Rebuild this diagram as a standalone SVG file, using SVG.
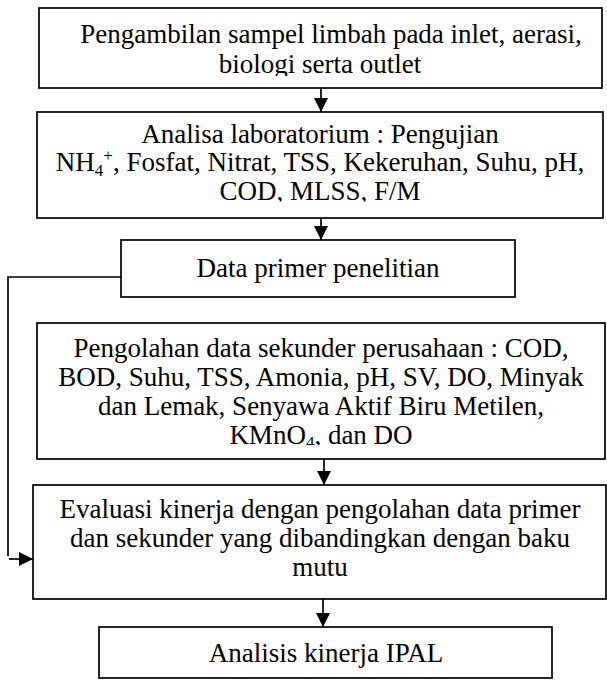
<svg xmlns="http://www.w3.org/2000/svg" width="607" height="680" viewBox="0 0 607 680">
<style>
.box{fill:#fff;stroke:#000;stroke-width:1.7}
.t{font-family:"Liberation Serif","Times New Roman",serif;font-size:27px;fill:#000;text-anchor:middle}
.c{fill:none;stroke:#000;stroke-width:1.7}
</style>
<defs>
<marker id="ah" markerUnits="userSpaceOnUse" markerWidth="16" markerHeight="16" viewBox="0 0 15 16" refX="14" refY="8" orient="auto">
<path d="M0,1 L14,8 L0,15 Z" fill="#000"/>
</marker>
<clipPath id="c1"><rect x="39" y="8" width="563" height="68"/></clipPath>
<clipPath id="c2"><rect x="37" y="112" width="566" height="89.5"/></clipPath>
<clipPath id="c4"><rect x="37" y="323" width="568" height="122"/></clipPath>
</defs>
<rect width="607" height="680" fill="#fff"/>
<g id="connectors">
<path class="c" d="M321,88 V112" marker-end="url(#ah)"/>
<path class="c" d="M321,218 V240" marker-end="url(#ah)"/>
<path class="c" d="M324,459 V485" marker-end="url(#ah)"/>
<path class="c" d="M323,599 V627" marker-end="url(#ah)"/>
<path class="c" d="M121,277 H8 V556"/>
<path class="c" d="M9,559 H33" marker-end="url(#ah)"/>
</g>
<g id="n1">
<rect class="box" x="39" y="8" width="563" height="80"/>
<g clip-path="url(#c1)">
<text class="t" x="331" y="43">Pengambilan sampel limbah pada inlet, aerasi,</text>
<text class="t" x="320" y="73">biologi serta outlet</text>
</g>
</g>
<g id="n2">
<rect class="box" x="37" y="112" width="566" height="106"/>
<g clip-path="url(#c2)">
<text class="t" x="320" y="143">Analisa laboratorium : Pengujian</text>
<text class="t" x="320" y="171">NH<tspan font-size="17" dy="5">4</tspan><tspan font-size="17" dy="-15">+</tspan><tspan dy="10">, Fosfat, Nitrat, TSS, Kekeruhan, Suhu, pH,</tspan></text>
<text class="t" x="320" y="200">COD, MLSS, F/M</text>
</g>
</g>
<g id="n3">
<rect class="box" x="121" y="240" width="394" height="57"/>
<text class="t" x="318" y="277">Data primer penelitian</text>
</g>
<g id="n4">
<rect class="box" x="37" y="323" width="568" height="136"/>
<g clip-path="url(#c4)">
<text class="t" x="321" y="357">Pengolahan data sekunder perusahaan : COD,</text>
<text class="t" x="321" y="386">BOD, Suhu, TSS, Amonia, pH, SV, DO, Minyak</text>
<text class="t" x="321" y="415">dan Lemak, Senyawa Aktif Biru Metilen,</text>
<text class="t" x="321" y="444">KMnO<tspan font-size="17" dy="4">4</tspan><tspan dy="-4">, dan DO</tspan></text>
</g>
</g>
<g id="n5">
<rect class="box" x="33" y="485" width="573" height="114"/>
<text class="t" x="320" y="518">Evaluasi kinerja dengan pengolahan data primer</text>
<text class="t" x="320" y="547">dan sekunder yang dibandingkan dengan baku</text>
<text class="t" x="320" y="576">mutu</text>
</g>
<g id="n6">
<rect class="box" x="99" y="627" width="453" height="51"/>
<text class="t" x="326" y="662">Analisis kinerja IPAL</text>
</g>
</svg>
